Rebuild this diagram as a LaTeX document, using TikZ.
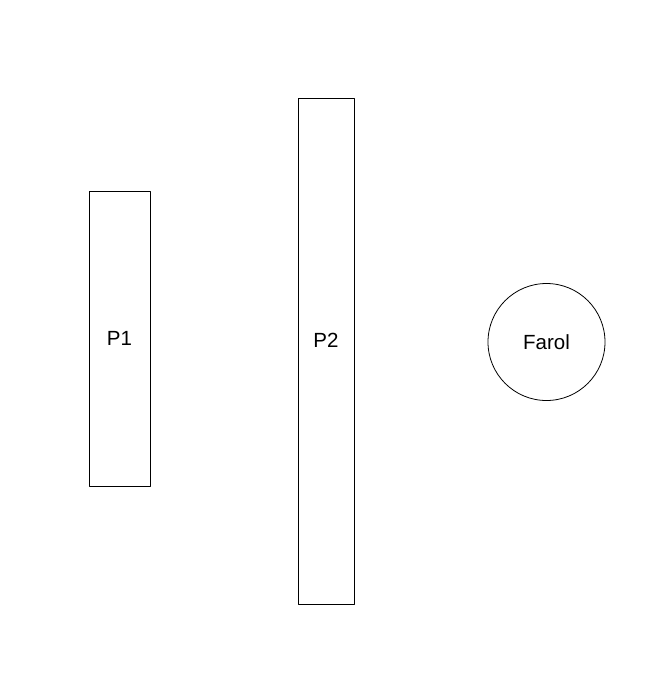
\documentclass[tikz,border=0pt]{standalone}
\usepackage{fontspec}
\setmainfont{Liberation Sans}
\begin{document}
\begin{tikzpicture}[x=1pt, y=-1pt, line join=round, line cap=round, font=\fontsize{20.5}{24}\selectfont,
	pilar/.style={draw, rectangle, inner sep=0pt, line width=0.8pt},
	farol/.style={draw, circle, inner sep=0pt, minimum size=117pt, line width=0.8pt}]
	\useasboundingbox (0,0) rectangle (652,673);
	% Pilares
	\node[pilar, minimum width=61pt, minimum height=295pt] (P1) at (119.5,338.5) {P1};
	\node[pilar, minimum width=56pt, minimum height=506pt, label={[yshift=11pt]center:P2}] (P2) at (326,351) {};
	% Farol
	\node[farol] (Farol) at (546.5,342) {Farol};
\end{tikzpicture}
\end{document}
